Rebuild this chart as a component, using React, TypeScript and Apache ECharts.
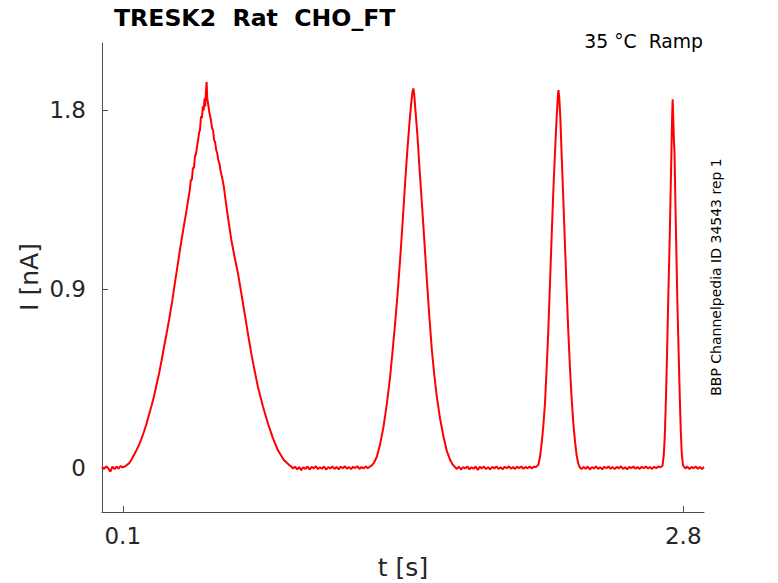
import React, { useEffect, useRef } from "react";
import * as echarts from "echarts";

const baseline0: number[][] = [
  [0.0, 0.004], [0.01, -0.006], [0.02, 0.007], [0.03, -0.003], [0.04, -0.02], [0.05, 0.005],
  [0.06, -0.007], [0.07, 0.006], [0.08, -0.004], [0.09, 0.008], [0.1, 0.002], [0.108, 0.006],
];
const peak1: number[][] = [
  [0.118, 0.012], [0.13, 0.022], [0.142, 0.04], [0.154, 0.064], [0.166, 0.088], [0.178, 0.114],
  [0.19, 0.145], [0.202, 0.181], [0.214, 0.22], [0.226, 0.265], [0.238, 0.31], [0.25, 0.357],
  [0.262, 0.415], [0.275, 0.475], [0.287, 0.54], [0.299, 0.609], [0.311, 0.675], [0.323, 0.744],
  [0.339, 0.844], [0.351, 0.93], [0.363, 1.01], [0.373, 1.08], [0.383, 1.147], [0.393, 1.21],
  [0.403, 1.27], [0.413, 1.335], [0.423, 1.4], [0.428, 1.45], [0.433, 1.45], [0.438, 1.51],
  [0.443, 1.51], [0.448, 1.57], [0.453, 1.58], [0.458, 1.62], [0.463, 1.65], [0.468, 1.69],
  [0.472, 1.7], [0.477, 1.77], [0.481, 1.76], [0.486, 1.82], [0.49, 1.8], [0.494, 1.86],
  [0.497, 1.82], [0.501, 1.9], [0.504, 1.943], [0.507, 1.86], [0.51, 1.84], [0.513, 1.82],
  [0.517, 1.79], [0.521, 1.77], [0.525, 1.75], [0.53, 1.71], [0.535, 1.7], [0.54, 1.65],
  [0.545, 1.64], [0.55, 1.6], [0.555, 1.585], [0.56, 1.55], [0.566, 1.53], [0.572, 1.49],
  [0.579, 1.46], [0.587, 1.415], [0.595, 1.35], [0.607, 1.26], [0.623, 1.147], [0.639, 1.06],
  [0.655, 0.979], [0.671, 0.88], [0.687, 0.777], [0.703, 0.675], [0.719, 0.576], [0.735, 0.49],
  [0.751, 0.408], [0.775, 0.31], [0.799, 0.224], [0.823, 0.15], [0.847, 0.089], [0.875, 0.04],
  [0.903, 0.012],
];
const baseline1: number[][] = [
  [0.91, 0.008], [0.92, -0.004], [0.93, 0.005], [0.94, -0.008], [0.95, 0.003], [0.96, -0.012],
  [0.97, 0.002], [0.98, -0.006], [0.99, 0.006], [1.0, -0.009], [1.01, 0.004], [1.02, -0.003],
  [1.03, 0.007], [1.04, -0.007], [1.05, 0.002], [1.06, -0.005], [1.07, 0.006], [1.08, -0.01],
  [1.09, 0.003], [1.1, -0.004], [1.11, 0.006], [1.12, -0.006], [1.13, 0.004], [1.14, -0.008],
  [1.15, 0.005], [1.16, -0.003], [1.17, 0.007], [1.18, -0.005], [1.19, 0.003], [1.2, -0.007],
  [1.21, 0.005], [1.22, -0.002], [1.23, 0.008], [1.24, -0.006], [1.25, 0.004], [1.26, -0.004],
  [1.27, 0.007], [1.28, -0.003], [1.29, 0.005], [1.3, 0.012],
];
const peak2: number[][] = [
  [1.31, 0.025], [1.324, 0.055], [1.34, 0.12], [1.356, 0.206], [1.372, 0.32], [1.388, 0.458],
  [1.4, 0.59], [1.412, 0.727], [1.425, 0.89], [1.437, 1.062], [1.449, 1.25], [1.461, 1.449],
  [1.471, 1.6], [1.481, 1.734], [1.49, 1.84], [1.496, 1.895], [1.5, 1.91], [1.504, 1.88],
  [1.51, 1.8], [1.52, 1.667], [1.53, 1.5], [1.541, 1.331], [1.553, 1.14], [1.565, 0.945],
  [1.577, 0.76], [1.589, 0.593], [1.601, 0.465], [1.613, 0.357], [1.629, 0.245], [1.645, 0.156],
  [1.661, 0.085], [1.677, 0.039], [1.69, 0.015],
];
const baseline2: number[][] = [
  [1.7, 0.004], [1.71, -0.006], [1.72, 0.005], [1.73, -0.009], [1.74, 0.003], [1.75, -0.004],
  [1.76, 0.007], [1.77, -0.008], [1.78, 0.002], [1.79, -0.005], [1.8, 0.006], [1.81, -0.011],
  [1.82, 0.004], [1.83, -0.003], [1.84, 0.006], [1.85, -0.007], [1.86, 0.003], [1.87, -0.009],
  [1.88, 0.005], [1.89, -0.004], [1.9, 0.006], [1.91, -0.006], [1.92, 0.002], [1.93, -0.008],
  [1.94, 0.005], [1.95, -0.003], [1.96, 0.007], [1.97, -0.005], [1.98, 0.003], [1.99, -0.006],
  [2.0, 0.005], [2.01, -0.002], [2.02, 0.006], [2.03, -0.005], [2.04, 0.004], [2.05, -0.003],
  [2.06, 0.006], [2.07, -0.004], [2.08, 0.005], [2.09, 0.003],
];
const peak3: number[][] = [
  [2.102, 0.015], [2.11, 0.055], [2.118, 0.123], [2.126, 0.21], [2.134, 0.324], [2.142, 0.5],
  [2.15, 0.693], [2.158, 0.925], [2.166, 1.163], [2.174, 1.39], [2.182, 1.583], [2.19, 1.76],
  [2.196, 1.87], [2.199, 1.902], [2.203, 1.86], [2.208, 1.76], [2.214, 1.583], [2.222, 1.36],
  [2.23, 1.13], [2.238, 0.905], [2.246, 0.693], [2.254, 0.51], [2.262, 0.357], [2.27, 0.23],
  [2.278, 0.139], [2.286, 0.065], [2.294, 0.022],
];
const baseline3: number[][] = [
  [2.3, 0.005], [2.31, -0.007], [2.32, 0.004], [2.33, -0.005], [2.34, 0.006], [2.35, -0.009],
  [2.36, 0.003], [2.37, -0.004], [2.38, 0.007], [2.39, -0.006], [2.4, 0.002], [2.41, -0.008],
  [2.42, 0.005], [2.43, -0.003], [2.44, 0.006], [2.45, -0.005], [2.46, 0.003], [2.47, -0.007],
  [2.48, 0.004], [2.49, -0.003], [2.5, 0.007], [2.51, -0.006], [2.52, 0.002], [2.53, -0.008],
  [2.54, 0.004], [2.55, -0.002], [2.56, 0.006], [2.57, -0.005], [2.58, 0.003], [2.59, -0.006],
  [2.6, 0.005], [2.61, -0.003], [2.62, 0.006], [2.63, -0.004], [2.64, 0.003], [2.65, -0.006],
  [2.66, 0.005], [2.67, -0.002], [2.68, 0.006], [2.69, 0.002],
];
const peak4: number[][] = [
  [2.7, 0.01], [2.706, 0.06], [2.711, 0.156], [2.717, 0.36], [2.722, 0.576], [2.728, 0.86],
  [2.735, 1.163], [2.739, 1.38], [2.743, 1.583], [2.746, 1.75], [2.749, 1.855], [2.752, 1.76],
  [2.755, 1.65], [2.758, 1.583], [2.762, 1.35], [2.767, 1.08], [2.772, 0.82], [2.778, 0.576],
  [2.783, 0.37], [2.788, 0.19], [2.793, 0.07], [2.799, 0.012],
];
const baseline4: number[][] = [
  [2.81, -0.004], [2.82, 0.006], [2.83, -0.007], [2.84, 0.004], [2.85, -0.003], [2.86, 0.006],
  [2.87, -0.005], [2.88, 0.003], [2.89, -0.006], [2.9, 0.004],
];

const xTicks = [0.1, 2.8];
const yTicks = [0, 0.9, 1.8];
const xRange = [0, 2.9];
const yRange = [-0.223, 2.139];

const titleText = "TRESK2  Rat  CHO_FT";
const conditionText = "35 °C  Ramp";
const sourceText = "BBP Channelpedia ID 34543 rep 1";
const xName = "t [s]";
const yName = "I [nA]";

const FONT = '"DejaVu Sans", "Noto Sans", sans-serif';

export default function App() {
  const ref = useRef<HTMLDivElement>(null);
  useEffect(() => {
    document.body.style.margin = "0";
    if (!ref.current) return;
    const chart = echarts.init(ref.current, null, { renderer: "svg" });
    const trace = [
      ...baseline0, ...peak1, ...baseline1, ...peak2, ...baseline2,
      ...peak3, ...baseline3, ...peak4, ...baseline4,
    ];
    const axisColor = "#4d4d4d";
    const textColor = "#262626";
    chart.setOption({
      animation: false,
      backgroundColor: "#ffffff",
      grid: { left: 102, right: 74, top: 43, bottom: 71, outerBoundsMode: "none" },
      xAxis: {
        type: "value",
        min: xRange[0],
        max: xRange[1],
        axisLine: { show: true, onZero: false, lineStyle: { color: axisColor, width: 1 } },
        axisTick: { show: true, inside: true, length: 6, customValues: xTicks, lineStyle: { color: axisColor } },
        axisLabel: {
          customValues: xTicks,
          margin: 12,
          fontSize: 23,
          fontFamily: FONT,
          color: textColor,
          formatter: (v: number) => String(v),
        },
        splitLine: { show: false },
      },
      yAxis: {
        type: "value",
        min: yRange[0],
        max: yRange[1],
        axisLine: { show: true, onZero: false, lineStyle: { color: axisColor, width: 1 } },
        axisTick: { show: true, inside: true, length: 6, customValues: yTicks, lineStyle: { color: axisColor } },
        axisLabel: {
          customValues: yTicks,
          margin: 16,
          fontSize: 23,
          fontFamily: FONT,
          color: textColor,
          formatter: (v: number) => String(v),
        },
        splitLine: { show: false },
      },
      series: [
        {
          type: "line",
          data: trace,
          showSymbol: false,
          symbol: "none",
          lineStyle: { color: "#ff0000", width: 2 },
          clip: true,
        },
      ],
      graphic: [
        {
          type: "text",
          x: 114,
          y: 18,
          style: {
            text: titleText,
            font: `bold 23.6px ${FONT}`,
            fill: "#000000",
            align: "left",
            verticalAlign: "middle",
          },
        },
        {
          type: "text",
          x: 703,
          y: 41,
          style: {
            text: conditionText,
            font: `18.8px ${FONT}`,
            fill: "#000000",
            align: "right",
            verticalAlign: "middle",
          },
        },
        {
          type: "text",
          x: 716,
          y: 277,
          rotation: Math.PI / 2,
          style: {
            text: sourceText,
            font: `14px ${FONT}`,
            fill: "#000000",
            align: "center",
            verticalAlign: "middle",
          },
        },
        {
          type: "text",
          x: 29,
          y: 277,
          rotation: Math.PI / 2,
          style: {
            text: yName,
            font: `25px ${FONT}`,
            fill: textColor,
            align: "center",
            verticalAlign: "middle",
          },
        },
        {
          type: "text",
          x: 403,
          y: 567,
          style: {
            text: xName,
            font: `25px ${FONT}`,
            fill: textColor,
            align: "center",
            verticalAlign: "middle",
          },
        },
      ],
    });
    return () => chart.dispose();
  }, []);
  return <div ref={ref} style={{ width: 778, height: 583 }} />;
}
